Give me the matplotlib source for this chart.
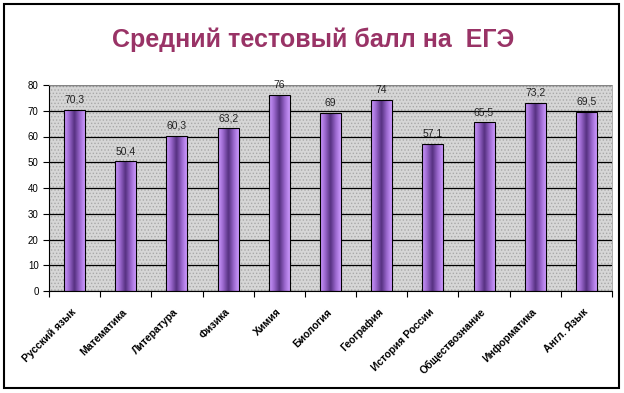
import numpy as np
import matplotlib
matplotlib.use("Agg")
import matplotlib.pyplot as plt
from matplotlib.patches import Rectangle
from matplotlib.colors import LinearSegmentedColormap

plt.rcParams['font.family'] = ['Liberation Sans', 'DejaVu Sans']
plt.rcParams['hatch.linewidth'] = 0.6

# данные
subjects = ['Русский язык', 'Математика', 'Литература', 'Физика', 'Химия',
            'Биология', 'География', 'История России', 'Обществознание',
            'Информатика', 'Англ. Язык']
scores = [70.3, 50.4, 60.3, 63.2, 76, 69, 74, 57.1, 65.5, 73.2, 69.5]
labels = ['70,3', '50,4', '60,3', '63,2', '76', '69', '74', '57,1', '65,5', '73,2', '69,5']

W, H = 624, 393
fig = plt.figure(figsize=(W / 100, H / 100), dpi=100)
fig.patch.set_facecolor('white')

# рамка вокруг диаграммы
fig.patches.append(Rectangle((4 / W, 1 - 388 / H), 615 / W, 384 / H,
                             transform=fig.transFigure, fill=False,
                             edgecolor='black', linewidth=1.5))

ax = fig.add_axes([49 / W, 1 - 291 / H, (612 - 49) / W, (291 - 85) / H])
ax.set_facecolor('#d6d6d6')
ax.patch.set_hatch('.....')
ax.patch.set_edgecolor('#a8a8a8')

x = np.arange(len(subjects))
bars = ax.bar(x, scores, width=0.41, color='none', edgecolor='black',
              linewidth=0.8, zorder=3)

# градиент внутри столбиков
cmap = LinearSegmentedColormap.from_list(
    'purp', ['#cc99ff', '#9966cc', '#553080', '#9966cc', '#cc99ff'])
grad = np.linspace(0, 1, 64).reshape(1, -1)
for b in bars:
    bx, bw, bh = b.get_x(), b.get_width(), b.get_height()
    im = ax.imshow(grad, cmap=cmap, aspect='auto', interpolation='bilinear',
                   extent=(bx, bx + bw, 0, bh), zorder=2)
    im.set_clip_path(b)

for xi, v, lab in zip(x, scores, labels):
    ax.text(xi, v + 2, lab, ha='center', va='bottom', fontsize=7.5, color='#222222')

ax.set_xlim(-0.5, len(subjects) - 0.5)
ax.set_ylim(0, 80)
ax.set_yticks(range(0, 81, 10))
ax.yaxis.grid(True, color='black', linewidth=0.9)
ax.set_axisbelow(True)
for g in ax.get_ygridlines():
    g.set_zorder(1.5)

ax.set_xticks(np.arange(-0.5, len(subjects), 1))
ax.set_xticklabels([])
ax.set_xticks(x, minor=True)
ax.set_xticklabels(subjects, minor=True, rotation=45, ha='right', va='center',
                   rotation_mode='anchor', fontsize=7.5, fontweight='bold')
ax.tick_params(axis='x', which='minor', length=0, pad=14)
ax.tick_params(axis='x', which='major', length=4, width=0.8)
ax.tick_params(axis='y', labelsize=7, length=4, width=0.8)

for s in ['top', 'right']:
    ax.spines[s].set_color('#a0a0a0')
    ax.spines[s].set_linewidth(0.6)
ax.spines['left'].set_linewidth(0.8)
ax.spines['bottom'].set_linewidth(0.8)

fig.text(313 / W, 1 - 40 / H, 'Средний тестовый балл на  ЕГЭ', ha='center',
         va='center', fontsize=18, fontweight='bold', color='#993366')

fig.savefig('out.png', dpi=100)
